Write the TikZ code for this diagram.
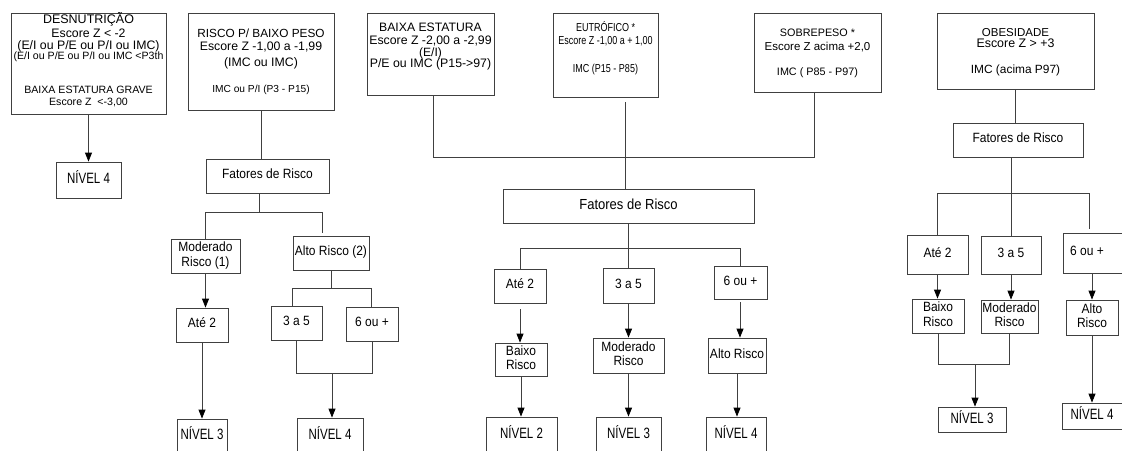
\documentclass[tikz,border=0pt]{standalone}
\usepackage{fontspec}
\setmainfont{Liberation Sans}
\usepackage{graphicx}
\usetikzlibrary{arrows.meta,calc}

% multi-line text block, raised by #1, with no height of its own
\newcommand{\topt}[2]{\raisebox{#1}[0pt][0pt]{\begin{tabular}{@{}c@{}}#2\end{tabular}}}
% one line of a text block: [vertical stretch]{size}{text}, not changing the row height
\newcommand{\tl}[3][1]{\fontsize{#2}{#2}\selectfont\smash{\scalebox{1}[#1]{#3}}}
% multi-line text block stretched vertically by #1
\newcommand{\vst}[2]{\scalebox{1}[#1]{\begin{tabular}{@{}c@{}}#2\end{tabular}}}
% box from corner (x1,y1) to corner (x2,y2): [opts]{x1}{y1}{x2}{y2}{name}{text}
\newcommand{\bx}[7][]{%
  \node[box,minimum width={(#4)-(#2)},minimum height={(#5)-(#3)},#1]
    (#6) at ({((#2)+(#4))/2},{((#3)+(#5))/2}) {#7};}

\begin{document}
\begin{tikzpicture}[x=1pt,y=-1pt,
  box/.style={draw=black!75,line width=0.8pt,rectangle,inner sep=0pt,
    font=\fontsize{11}{12.5}\selectfont},
  small/.style={font=\fontsize{12}{13}\selectfont},
  level/.style={font=\fontsize{11.5}{13}\selectfont},
  line/.style={draw=black!75,line width=0.8pt},
  arr/.style={line,-{Triangle[length=9pt,width=7pt,color=black]}}]
\useasboundingbox (0,0) rectangle (1122,450);

% ---------- desnutrição ----------
\bx{11}{13}{166}{114}{desn}{\topt{-1pt}{%
  \tl{12.5}{DESNUTRIÇÃO}\\[1.4pt]
  \tl{12.3}{Escore Z < -2}\\[-0.5pt]
  \tl{12.3}{(E/I ou P/E ou P/I ou IMC)}\\[-2.1pt]
  \tl{10.6}{(E/I ou P/E ou P/I ou IMC <P3th}\\[21.5pt]
  \tl{10.6}{BAIXA ESTATURA GRAVE}\\[-1pt]
  \tl{10.6}{Escore Z\ \ <-3,00}}}
\bx[level]{56}{162}{121}{198}{n4a}{\vst{1.3}{NÍVEL 4}}
\draw[arr] (desn.south) -- (n4a.north);

% ---------- risco p/ baixo peso ----------
\bx{188}{13}{334}{110}{rbp}{\topt{-3.6pt}{%
  \tl{11.8}{RISCO P/ BAIXO PESO}\\[1.1pt]
  \tl{12.3}{Escore Z -1,00 a -1,99}\\[3pt]
  \tl{12.3}{(IMC ou IMC)}\\[13.8pt]
  \tl{10.2}{IMC ou P/I (P3 - P15)}}}
\bx[small]{206}{159}{329}{193}{fr1}{\vst{1.12}{Fatores de Risco}}
\bx[small]{171}{239}{240}{273}{mod1}{\vst{1.12}{Moderado\\Risco (1)}}
\bx[small]{293}{236}{369}{270}{alto1}{\vst{1.12}{Alto Risco (2)}}
\bx[small]{176}{308}{228}{342}{ate1}{\vst{1.12}{Até 2}}
\bx[small]{271}{306}{322}{340}{a35a}{\vst{1.12}{3 a 5}}
\bx[small]{346}{307}{398}{341}{a6a}{\vst{1.12}{6 ou +}}
\bx[level]{177}{419}{227}{453}{n3a}{\vst{1.3}{NÍVEL 3}}
\bx[level]{297}{418}{363}{453}{n4b}{\vst{1.3}{NÍVEL 4}}

\draw[line] (rbp.south) -- (rbp.south |- fr1.north);
\coordinate (j1) at (259,212);
\coordinate (j1r) at (322,233);
\draw[line] (j1 |- fr1.south) -- (j1);
\draw[line] (mod1.north) |- (j1r |- j1) -- (j1r);
\draw[arr] (mod1.south) -- (mod1.south |- ate1.north);
\draw[arr] (ate1.south) -- (n3a.north);
\coordinate (j2) at (331,288);
\coordinate (j2l) at (292,288);
\coordinate (j2r) at (371,288);
\draw[line] (alto1.south) -- (j2);
\draw[line] (j2l |- a35a.north) -- (j2l) -- (j2r) -- (j2r |- a6a.north);
\coordinate (j3) at (332,373);
\draw[line] (a35a.south) |- (a6a.south |- j3) -- (a6a.south);
\draw[arr] (j3) -- (j3 |- n4b.north);

% ---------- baixa estatura / eutrófico / sobrepeso ----------
\bx{367}{13}{494}{95}{be}{\topt{4.4pt}{%
  \tl{12.2}{BAIXA ESTATURA}\\[0.4pt]
  \tl{12.3}{Escore Z -2,00 a -2,99}\\[-0.5pt]
  \tl{12}{(E/I)}\\[-1.5pt]
  \tl{12.3}{P/E ou IMC (P15->97)}}}
\bx{553}{13}{658}{97}{eu}{\topt{3.2pt}{%
  \tl[1.28]{9}{EUTRÓFICO *}\\[0.5pt]
  \tl[1.28]{9}{Escore Z -1,00 a + 1,00}\\[15.5pt]
  \tl[1.28]{9}{IMC (P15 - P85)}}}
\bx{754}{13}{881}{92}{sp}{\topt{-4pt}{%
  \tl{10.8}{SOBREPESO *}\\[0.7pt]
  \tl{11.5}{Escore Z acima +2,0}\\[13.2pt]
  \tl{10.8}{IMC ( P85 - P97)}}}
\bx[font=\fontsize{13}{14}\selectfont]{503}{189}{754}{223}{frm}{\vst{1.12}{Fatores de Risco}}
\bx[small]{494}{269}{546}{303}{ate2}{\vst{1.12}{Até 2}}
\bx[small]{603}{268}{654}{303}{a35b}{\vst{1.12}{3 a 5}}
\bx[small]{714}{266}{767}{299}{a6b}{\vst{1.12}{6 ou +}}
\bx[small]{495}{343}{547}{376}{bx2}{\vst{1.12}{Baixo\\Risco}}
\bx[small]{593}{338}{664}{373}{mod2}{\vst{1.12}{Moderado\\Risco}}
\bx[small]{708}{338}{766}{373}{alt2}{\vst{1.12}{Alto Risco}}
\bx[level]{486}{417}{557}{453}{n2}{\vst{1.3}{NÍVEL 2}}
\bx[level]{596}{417}{661}{453}{n3b}{\vst{1.3}{NÍVEL 3}}
\bx[level]{706}{417}{766}{453}{n4c}{\vst{1.3}{NÍVEL 4}}

\coordinate (jm) at (433,157);
\draw[line] (be.south -| jm) -- (jm) -- (814,157) -- (sp.south -| 814,0);
\coordinate (eg) at (625,102);
\draw[line] (eg) -- (eg |- frm.north);
\coordinate (jm2) at (629,248);
\draw[line] (frm.south) -- (a35b.north);
\draw[line] (ate2.north) |- (a6b.north |- jm2) -- (a6b.north);
\coordinate (g1) at (520,309);
\draw[arr] (g1) -- (g1 |- bx2.north);
\draw[arr] (bx2.south) -- (bx2.south |- n2.north);
\draw[arr] (a35b.south) -- (mod2.north);
\draw[arr] (mod2.south) -- (n3b.north);
\coordinate (g2) at (740,302);
\draw[arr] (g2) -- (g2 |- alt2.north);
\draw[arr] (alt2.south) -- (alt2.south |- n4c.north);

% ---------- obesidade ----------
\bx{937}{13}{1094}{89}{ob}{\topt{-3.9pt}{%
  \tl{11.5}{OBESIDADE}\\[-1.3pt]
  \tl{12.4}{Escore Z > +3}\\[13.4pt]
  \tl{11.9}{IMC (acima P97)}}}
\bx[small]{953}{123}{1083}{157}{fr3}{\vst{1.12}{Fatores de Risco}}
\bx[small]{907}{235}{968}{274}{ate3}{\vst{1.12}{Até 2}}
\bx[small]{981}{236}{1041}{274}{a35c}{\vst{1.12}{3 a 5}}
\bx[small]{1063}{233}{1140}{273}{a6c}{\hspace*{-29pt}\vst{1.12}{6 ou +}}
\bx[small]{912}{299}{964}{333}{bx3}{\vst{1.12}{Baixo\\Risco}}
\bx[small]{981}{300}{1038}{333}{mod3}{\vst{1.12}{Moderado\\Risco}}
\bx[small]{1066}{300}{1118}{335}{alt3}{\vst{1.12}{Alto\\Risco}}
\bx[level]{938}{407}{1006}{432}{n3c}{\vst{1.3}{NÍVEL 3}}
\bx[level]{1062}{403}{1140}{429}{n4d}{\hspace*{-18pt}\vst{1.3}{NÍVEL 4}}

\draw[line] (ob.south) -- (ob.south |- fr3.north);
\draw[line] (a35c.north |- fr3.south) -- (a35c.north);
\coordinate (jr) at (1089,193);
\coordinate (jre) at (1089,229);
\draw[line] (ate3.north) |- (jr) -- (jre);
\draw[arr] (ate3.south) -- (ate3.south |- bx3.north);
\draw[arr] (a35c.south) -- (a35c.south |- mod3.north);
\draw[arr] (alt3.north |- a6c.south) -- (alt3.north);
\coordinate (jb) at (975,364);
\draw[line] (bx3.south) |- (mod3.south |- jb) -- (mod3.south);
\draw[arr] (jb) -- (jb |- n3c.north);
\draw[arr] (alt3.south) -- (alt3.south |- n4d.north);
\end{tikzpicture}
\end{document}
